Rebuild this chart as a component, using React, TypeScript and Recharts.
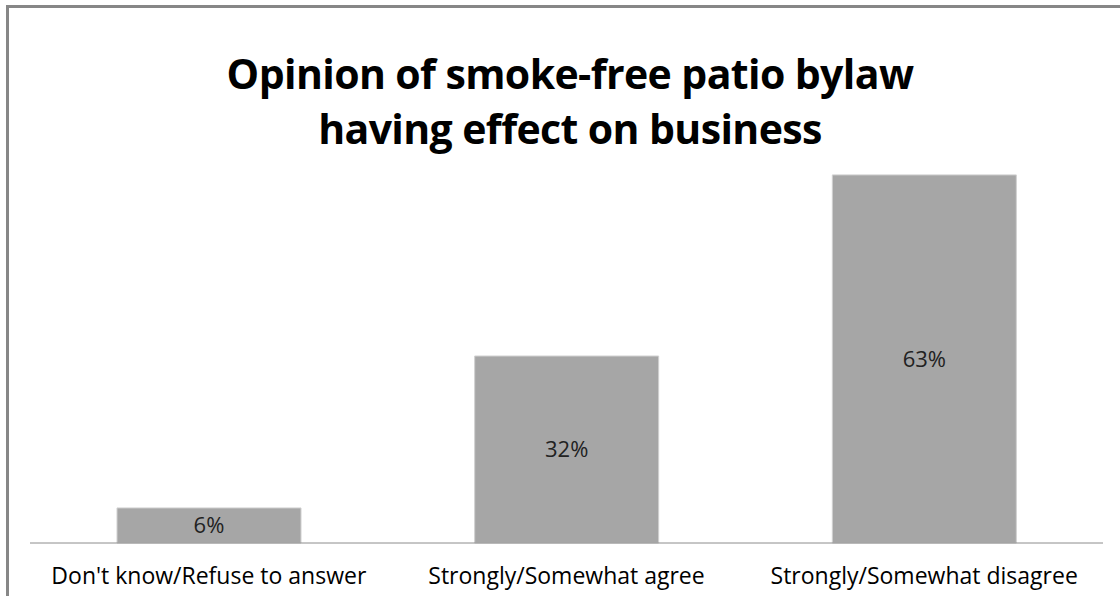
import { BarChart, Bar, XAxis, YAxis, LabelList } from 'recharts';

const categories = ["Don't know/Refuse to answer", 'Strongly/Somewhat agree', 'Strongly/Somewhat disagree'];
const shares = [6, 32, 63];
const titleLines = ['Opinion of smoke-free patio bylaw', 'having effect on business'];

const data = categories.map((name, i) => ({ name, value: shares[i] }));

export default function App() {
  return (
    <div style={{ position: 'fixed', left: 0, top: 0, width: 1120, height: 596, overflow: 'hidden', background: '#fff' }}>
      {/* frame runs past the right and bottom edge like the original crop */}
      <div style={{ position: 'absolute', left: 6, top: 5, width: 1200, height: 700, border: '3px solid #878787' }} />
      <div
        style={{
          position: 'absolute',
          left: 0,
          top: 46,
          width: 1140,
          textAlign: 'center',
          fontFamily: '"Open Sans", sans-serif',
          fontWeight: 700,
          fontSize: 41,
          lineHeight: '55px',
          color: '#000',
          letterSpacing: -0.6,
        }}
      >
        {titleLines.map((t) => (
          <div key={t}>{t}</div>
        ))}
      </div>
      <div style={{ position: 'absolute', left: 0, top: 0 }}>
        <BarChart width={1120} height={596} data={data} margin={{ top: 134, right: 17, bottom: 0, left: 30 }}>
          <YAxis hide domain={[0, 70]} />
          <XAxis
            dataKey="name"
            height={53}
            axisLine={{ stroke: '#8c8c8c', strokeWidth: 1 }}
            tickLine={false}
            interval={0}
            tick={{ fill: '#000', fontSize: 23, fontFamily: '"Open Sans", sans-serif', dy: 17 }}
          />
          <Bar dataKey="value" fill="#a6a6a6" stroke="#d0d0d0" strokeWidth={1} barSize={184} isAnimationActive={false}>
            <LabelList
              dataKey="value"
              position="center"
              formatter={(v: any) => `${v}%`}
              style={{ fill: '#222', fontSize: 22, fontFamily: '"Open Sans", sans-serif' }}
            />
          </Bar>
        </BarChart>
      </div>
    </div>
  );
}
